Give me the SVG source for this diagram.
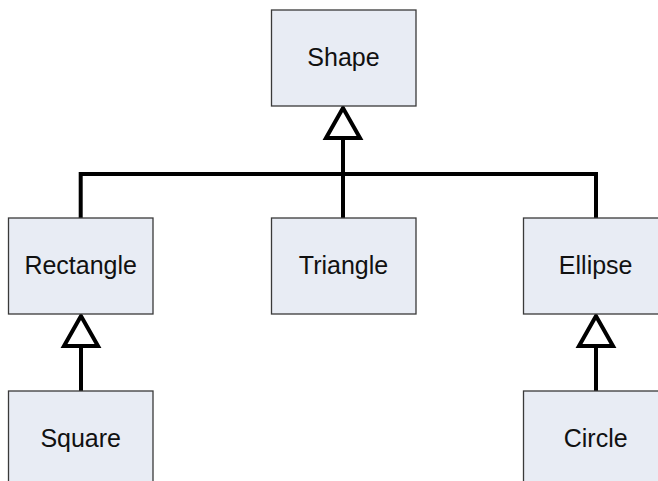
<svg xmlns="http://www.w3.org/2000/svg" width="658" height="481" viewBox="0 0 658 481">
<style>
.box{fill:#E8ECF4;stroke:#3a3a3a;stroke-width:1.3}
.lbl{font-family:"Liberation Sans",Arial,sans-serif;font-size:25px;fill:#111;text-anchor:middle}
.ln{fill:none;stroke:#000;stroke-width:4;stroke-linejoin:miter}
.head{fill:#fff;stroke:#000;stroke-width:4;stroke-linejoin:miter}
</style>
<rect width="658" height="481" fill="#fff"/>
<g id="connectors">
<path class="ln" d="M80.7,218 V174 H596 V218"/>
<path class="ln" d="M343,218 V138"/>
<polygon class="head" points="343,108 326,138 360,138"/>
<path class="ln" d="M81,391 V346"/>
<polygon class="head" points="81,316 64,346 98,346"/>
<path class="ln" d="M596,391 V346"/>
<polygon class="head" points="596,316 579,346 613,346"/>
</g>
<g id="shape"><rect class="box" x="271.5" y="10" width="144.5" height="96"/><text class="lbl" x="343.5" y="66">Shape</text></g>
<g id="rectangle"><rect class="box" x="8.5" y="218" width="144.5" height="96"/><text class="lbl" x="80.7" y="274">Rectangle</text></g>
<g id="triangle"><rect class="box" x="271.5" y="218" width="144.5" height="96"/><text class="lbl" x="343.5" y="274">Triangle</text></g>
<g id="ellipse"><rect class="box" x="523.5" y="218" width="144.5" height="96"/><text class="lbl" x="595.7" y="274">Ellipse</text></g>
<g id="square"><rect class="box" x="8.5" y="391" width="144.5" height="96"/><text class="lbl" x="80.7" y="447">Square</text></g>
<g id="circle"><rect class="box" x="523.5" y="391" width="144.5" height="96"/><text class="lbl" x="595.7" y="447">Circle</text></g>
</svg>
